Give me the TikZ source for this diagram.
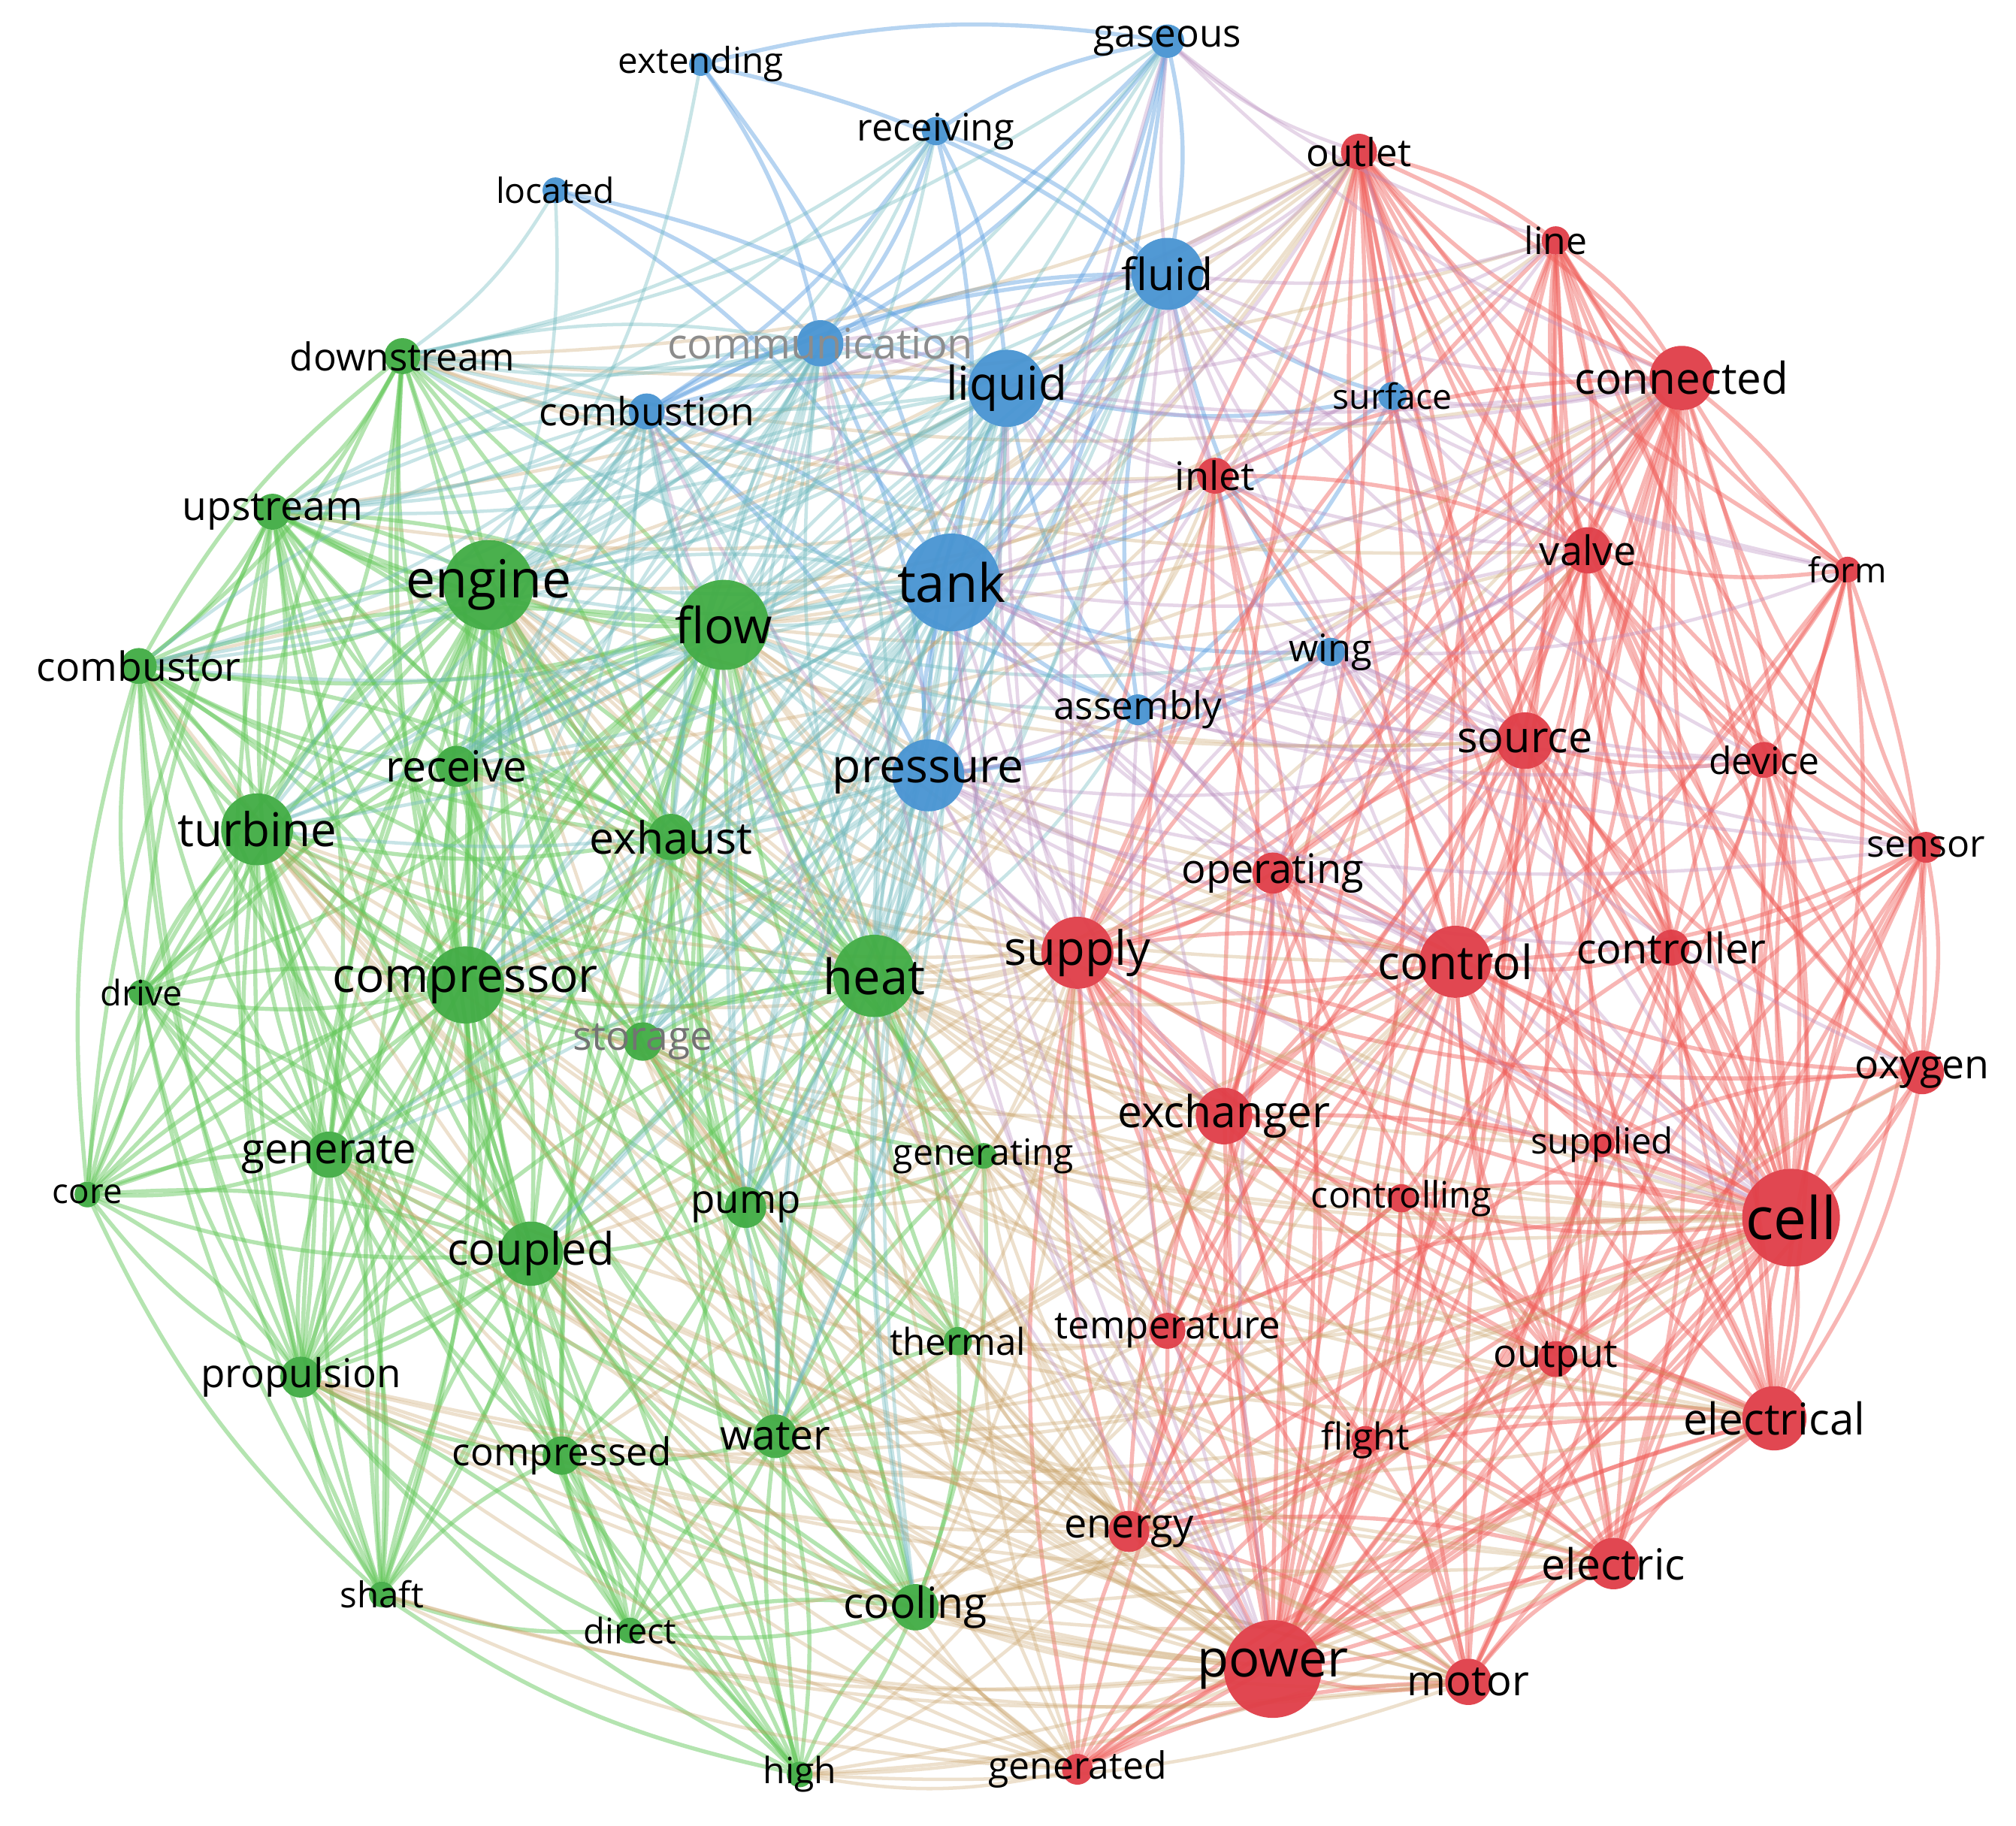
\documentclass[tikz,border=0pt]{standalone}
\usepackage{fontspec}
\setmainfont{Open Sans}
\usetikzlibrary{backgrounds}
\definecolor{NG}{RGB}{65,172,68}
\definecolor{NR}{RGB}{224,62,72}
\definecolor{NB}{RGB}{72,148,210}
\definecolor{EG}{RGB}{100,200,90}
\definecolor{ER}{RGB}{240,95,90}
\definecolor{EB}{RGB}{95,160,225}
\definecolor{EGR}{RGB}{200,160,100}
\definecolor{EGB}{RGB}{110,185,190}
\definecolor{ERB}{RGB}{185,140,190}
\newcommand\drawedges[2]{\foreach \src/\tgts in {#2}{\foreach \dst in \tgts {\draw[#1] (\src) to[bend right=11] (\dst);}}}
\def\nodedata{%
gaseous/908/32/13/8.5/B/black,
extending/545/50/9/7.9/B/black,
receiving/728/102/11/8.4/B/black,
located/432/148/10/7.7/B/black,
fluid/908/213/28/9.8/B/black,
communication/638/267/18/9.3/B/black!45,
liquid/783/302/30/10.3/B/black,
combustion/503/320/14/8.6/B/black,
surface/1083/308/11/7.7/B/black,
tank/740/453/38/11.7/B/black,
wing/1035/507/11/8.4/B/black,
assembly/885/552/12/8.5/B/black,
pressure/722/603/28/10.4/B/black,
outlet/1057/118/14/8.5/R/black,
line/1210/187/11/8.3/R/black,
connected/1308/294/25/9.7/R/black,
inlet/945/370/14/8.7/R/black,
valve/1235/428/18/9.0/R/black,
form/1437/443/10/7.6/R/black,
source/1186/576/22/9.6/R/black,
device/1372/591/14/8.3/R/black,
sensor/1498/659/12/8.3/R/black,
operating/990/679/16/9.0/R/black,
supply/838/741/28/10.5/R/black,
control/1132/748/28/10.4/R/black,
controller/1300/737/14/9.3/R/black,
oxygen/1495/834/17/8.9/R/black,
exchanger/952/868/22/9.75/R/black,
supplied/1246/890/10/7.9/R/black,
controlling/1090/932/11/8.05/R/black,
cell/1393/947/38/13/R/black,
temperature/908/1035/14/8.5/R/black,
output/1210/1057/14/8.7/R/black,
electrical/1380/1103/25/9.7/R/black,
flight/1062/1120/11/8.2/R/black,
energy/878/1191/16/9.0/R/black,
electric/1255/1216/20/9.5/R/black,
power/990/1298/38/11.4/R/black,
motor/1142/1308/18/9.3/R/black,
generated/838/1376/12/8.3/R/black,
downstream/313/277/14/8.5/G/black,
upstream/212/398/14/8.9/G/black,
engine/380/455/35/11.6/G/black,
flow/563/486/35/11/G/black,
combustor/108/518/14/8.9/G/black,
receive/355/596/16/9.5/G/black,
turbine/200/645/28/10.3/G/black,
exhaust/522/651/18/9.8/G/black,
drive/110/772/10/7.8/G/black,
compressor/362/766/30/10.6/G/black,
storage/500/810/15/8.9/G/black!55,
heat/680/759/32/10.8/G/black,
generate/256/898/18/9.35/G/black,
core/68/929/10/7.6/G/black,
coupled/413/975/25/9.9/G/black,
pump/580/939/16/8.8/G/black,
generating/765/899/10/8.0/G/black,
thermal/745/1043/11/8.2/G/black,
propulsion/234/1071/16/8.8/G/black,
compressed/437/1132/15/8.5/G/black,
water/603/1117/17/9.2/G/black,
shaft/297/1240/10/7.9/G/black,
direct/490/1268/10/7.8/G/black,
cooling/712/1250/18/9.5/G/black,
high/622/1380/10/8.0/G/black}
\begin{document}
\begin{tikzpicture}[x=0.01cm,y=-0.01cm,
  dot/.style={circle,inner sep=0pt,outer sep=0pt,opacity=0.95},
  lab/.style={inner sep=0pt},
  eBB/.style={draw=EB,line width=0.9pt,opacity=0.45},
  eRR/.style={draw=ER,line width=0.9pt,opacity=0.45},
  eGG/.style={draw=EG,line width=0.9pt,opacity=0.48},
  eGR/.style={draw=EGR,line width=0.75pt,opacity=0.32},
  eGB/.style={draw=EGB,line width=0.75pt,opacity=0.38},
  eRB/.style={draw=ERB,line width=0.75pt,opacity=0.35}]
\useasboundingbox (0,0) rectangle (1568,1420);
% circles
\foreach \nn/\xx/\yy/\rr/\ff/\cc/\tcol in \nodedata {
  \node[dot, fill=N\cc, minimum size={\rr*0.02cm}] (\nn) at (\xx,\yy) {};
}
% labels
\foreach \nn/\xx/\yy/\rr/\ff/\cc/\tcol in \nodedata {
  \node[lab, text=\tcol, font={\fontsize{\ff}{\ff}\selectfont}] (\nn-l) at (\nn) {\nn};
}
\begin{pgfonlayer}{background}
\fill[white] (0,0) rectangle (1568,1420);
% blue-blue
\drawedges{eBB}{
tank/{liquid,fluid,pressure,communication,combustion,gaseous,receiving,located,extending,assembly,wing,surface},
liquid/{fluid,pressure,communication,combustion,gaseous,receiving,assembly,surface,located},
fluid/{pressure,communication,gaseous,receiving,surface,assembly,wing,combustion,extending},
pressure/{communication,combustion,assembly,wing,gaseous},
communication/{combustion,receiving,gaseous,located,extending},
combustion/{receiving,gaseous,assembly},
gaseous/{receiving,extending},
assembly/{wing,surface}}
% red-red
\drawedges{eRR}{
power/{cell,electrical,electric,motor,energy,generated,supply,control,source,output,flight,connected,controller,device,temperature,exchanger,operating,oxygen,valve,sensor,controlling,supplied,inlet,outlet,line},
cell/{electrical,electric,motor,oxygen,supply,control,source,connected,controller,device,sensor,output,supplied,valve,form,line,outlet,inlet,exchanger,operating,temperature,energy,flight,controlling,generated},
control/{supply,source,controller,valve,connected,device,sensor,operating,exchanger,temperature,output,electrical,electric,motor,controlling,supplied,flight,energy,inlet,outlet,line,form,oxygen,generated},
supply/{exchanger,source,operating,temperature,valve,connected,inlet,outlet,energy,electrical,electric,motor,output,controlling,generated,flight,oxygen,supplied},
connected/{valve,source,line,outlet,inlet,form,device,sensor,controller,electrical,electric,motor,output,oxygen,supplied,exchanger,operating},
electrical/{electric,motor,output,energy,generated,oxygen,sensor,device,controller,supplied,flight,source},
electric/{motor,output,energy,generated,flight,source,controller,device},
exchanger/{temperature,operating,inlet,outlet,source,valve,energy,flight,controlling,output},
source/{valve,device,operating,controller,oxygen,supplied,output,energy,inlet},
valve/{inlet,outlet,line,form,device,sensor,controller,oxygen,operating},
motor/{energy,generated,output,flight,controller},
oxygen/{sensor,device,supplied,form,output},
energy/{generated,temperature,flight,output},
inlet/{outlet,operating,temperature},
controller/{device,sensor,output,controlling},
device/{sensor,form,line},
output/{supplied,controlling,flight},
temperature/{operating,controlling,flight},
line/{outlet,form},
outlet/{connected,valve,cell,control,supply,source,power,device,sensor,form,oxygen,electrical,controller},
line/{connected,valve,cell,power,control,source,supply,sensor,oxygen,controller},
form/{cell,connected,sensor,power,electrical,controller},
sensor/{cell,electrical,supplied,output,electric},
operating/{control,cell,valve,power,output},
controlling/{cell,electrical,electric,motor,energy},
supplied/{electric,motor,energy},
flight/{generated,cell},
generated/{cell,output},
supply/{cell,control,power},
electrical/{cell,power,control},
connected/{cell,control,power,supply}}
% green-green
\drawedges{eGG}{
engine/{flow,turbine,compressor,combustor,upstream,downstream,receive,exhaust,heat,generate,coupled,propulsion,drive,core,shaft,compressed,storage,pump,water,cooling,direct,high,generating,thermal},
flow/{turbine,compressor,combustor,upstream,downstream,receive,exhaust,heat,generate,coupled,pump,water,cooling,storage,compressed,thermal,generating,propulsion,high,drive},
turbine/{compressor,combustor,upstream,downstream,receive,exhaust,generate,coupled,drive,core,propulsion,shaft,compressed,direct,heat,high,storage},
compressor/{combustor,upstream,downstream,receive,exhaust,heat,generate,coupled,drive,core,propulsion,shaft,compressed,direct,storage,pump,water,cooling,high},
heat/{exhaust,receive,storage,generate,coupled,pump,water,cooling,thermal,generating,compressed,high,direct,propulsion,upstream,downstream},
coupled/{generate,propulsion,shaft,compressed,direct,drive,core,pump,water,cooling,high,exhaust,receive,combustor},
generate/{propulsion,shaft,core,drive,compressed,combustor,upstream,receive,exhaust,water,cooling},
exhaust/{receive,upstream,downstream,combustor,storage,pump,water,cooling,compressed},
combustor/{upstream,downstream,drive,core,propulsion,shaft,receive},
upstream/{downstream,receive,drive,core,propulsion},
downstream/{receive},
propulsion/{shaft,core,drive,compressed,direct,high},
compressed/{shaft,direct,water,high,pump,cooling},
water/{cooling,pump,high,direct,thermal,generating,storage},
cooling/{pump,thermal,high,direct,generating},
pump/{storage,thermal,generating},
storage/{generating,thermal},
core/{drive,shaft},
shaft/{direct,high},
receive/{coupled,compressor,storage,pump,generate},
downstream/{turbine,compressor,exhaust,combustor,coupled},
upstream/{exhaust,coupled,generate,compressor},
drive/{propulsion,shaft,generate,coupled},
high/{water,cooling,coupled,propulsion},
direct/{water,cooling,compressed},
core/{propulsion,generate,turbine},
generating/{heat,water,exhaust},
thermal/{heat,flow,water},
combustor/{engine,flow,turbine,compressor,generate,coupled,exhaust,heat},
upstream/{engine,flow,turbine,heat,storage},
drive/{engine,turbine,compressor,flow,core},
core/{engine,compressor,coupled,flow},
propulsion/{engine,turbine,compressor,flow,heat,coupled,generate},
shaft/{engine,turbine,compressor,coupled,generate,flow}}
% green-red
\drawedges{eGR}{
heat/{exchanger,supply,power,control,energy,temperature,generated,cell,source,operating,flight,electrical,output,inlet,outlet,controlling,supplied,motor},
flow/{supply,control,valve,inlet,outlet,connected,exchanger,source,operating,power,cell,temperature,line},
engine/{power,supply,control,electrical,electric,motor,energy,generated,cell,source,exchanger,flight,outlet,inlet},
cooling/{power,exchanger,supply,energy,temperature,motor,electrical,electric,generated,cell,flight,control,output},
water/{supply,power,cell,exchanger,energy,generated,temperature,control,oxygen},
compressor/{power,supply,exchanger,motor,electric,cell,outlet,inlet,connected},
turbine/{power,generated,electric,electrical,motor,energy,supply,cell},
coupled/{power,motor,electric,generated,energy,supply,connected},
generate/{power,electrical,electric,energy,generated,motor},
propulsion/{power,motor,electric,electrical,energy,generated,flight},
pump/{supply,power,exchanger,control,motor,valve},
thermal/{power,energy,exchanger,temperature,supply,control,cell},
generating/{power,energy,electrical,generated,cell,supply,exchanger},
storage/{power,energy,supply,cell,electrical},
high/{power,generated,energy,temperature,electrical,electric,motor},
shaft/{power,motor,generated},
direct/{power,generated,motor,cell},
exhaust/{supply,exchanger,power,temperature,outlet},
receive/{supply,power,control,connected,outlet},
compressed/{power,supply,cell,generated,motor},
downstream/{outlet,inlet,connected,valve,line},
upstream/{outlet,inlet},
combustor/{power,outlet}}
% green-blue
\drawedges{eGB}{
engine/{tank,liquid,fluid,pressure,combustion,communication,gaseous,receiving,located,extending},
flow/{tank,liquid,fluid,pressure,combustion,communication,gaseous,receiving,assembly,wing},
heat/{tank,pressure,liquid,fluid,combustion,communication,assembly},
turbine/{tank,fluid,liquid,combustion,communication,pressure},
compressor/{tank,pressure,fluid,liquid,combustion,communication},
receive/{tank,fluid,liquid,communication,combustion,receiving,gaseous},
downstream/{tank,fluid,liquid,combustion,communication,receiving,gaseous,located},
upstream/{tank,fluid,liquid,combustion,communication,receiving},
combustor/{combustion,tank,fluid,communication,liquid},
exhaust/{tank,pressure,fluid,combustion,communication},
storage/{tank,liquid,pressure,fluid},
pump/{tank,liquid,fluid,pressure},
water/{tank,liquid,pressure},
coupled/{tank,fluid,pressure},
generate/{tank,pressure},
communication/{heat,flow,engine,exhaust,receive,pump,storage,compressor,turbine,upstream,downstream,water},
combustion/{engine,flow,turbine,compressor,receive,exhaust,heat,upstream,downstream,combustor},
pressure/{flow,heat,exhaust,pump,storage,compressor,water,cooling},
liquid/{flow,heat,engine,pump,storage,water,cooling},
tank/{flow,engine,heat,exhaust,pump,storage,water,cooling,compressor,turbine,receive}}
% red-blue
\drawedges{eRB}{
tank/{supply,control,valve,inlet,outlet,connected,source,operating,power,cell,exchanger,line,temperature,device,sensor},
liquid/{supply,inlet,outlet,valve,connected,source,cell,power,control,line},
fluid/{inlet,outlet,valve,connected,line,supply,source,control,cell,exchanger,form,device},
pressure/{supply,control,valve,source,operating,inlet,connected,sensor,cell,power,exchanger,controller},
assembly/{connected,source,cell,valve,supply,control,power,device},
wing/{connected,cell,power,control,source,valve,sensor,device,supply,oxygen,form},
surface/{connected,outlet,line,valve,inlet,cell,form},
communication/{control,supply,connected,outlet,power},
gaseous/{outlet,inlet,connected,supply,line},
combustion/{supply,outlet,inlet,power}}
\end{pgfonlayer}
\end{tikzpicture}
\end{document}
